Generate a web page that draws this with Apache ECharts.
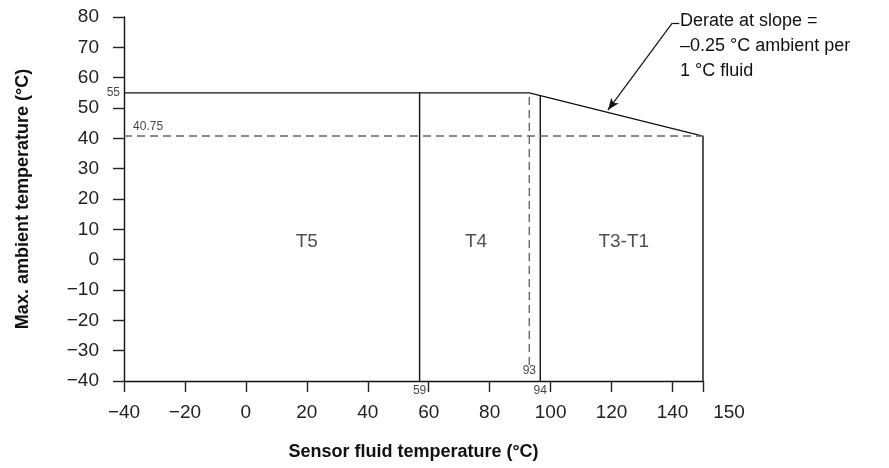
<!DOCTYPE html>
<html>
<head>
<meta charset="utf-8">
<script src="https://cdn.jsdelivr.net/npm/echarts@6/dist/echarts.min.js"></script>
<style>html,body{margin:0;padding:0;background:#fff}#c{width:889px;height:468px}</style>
</head>
<body>
<div id="c"></div>
<script>
// ---- data ----
var xTickLabels = [-40, -20, 0, 20, 40, 60, 80, 100, 120, 140, 150];
var yTickLabels = [-40, -30, -20, -10, 0, 10, 20, 30, 40, 50, 60, 70, 80];
var envelope = [[-40, 55], [93, 55], [150, 40.75], [150, -40]];
var lineT5T4 = [[57, -40], [57, 55]];
var lineT4T3 = [[96.6, -40], [96.6, 54.1]];
var dashedVertical = [[93, -34.7], [93, 55]];
var dashedHorizontal = [[-40, 40.75], [150, 40.75]];
var zoneLabels = [['T5', 20, 5.8], ['T4', 75.5, 5.8], ['T3-T1', 124, 5.8]];
var valueLabels = [
  { text: '55', x: -40, y: 55, pos: 'left' },
  { text: '40.75', x: -38, y: 40.75, pos: 'topRight' },
  { text: '59', x: 57, y: -40, pos: 'bottom' },
  { text: '94', x: 96.6, y: -40, pos: 'bottom' },
  { text: '93', x: 93, y: -40, pos: 'top' }
];
var leaderHook = [[142.2, 78], [139.9, 78]];
var leaderArrow = [[139.9, 78], [118.8, 49.3]];
var annotationLines = ['Derate at slope =', '\u20130.25 \u00B0C ambient per', '1 \u00B0C fluid'];

var chart = echarts.init(document.getElementById('c'), null, { renderer: 'canvas' });
var FONT = 'Liberation Sans';
var lineStyleSolid = { color: '#111', width: 1.4 };
var lineStyleDash = { color: '#666', width: 1.4, type: [8, 5] };

function lineSeries(data, style) {
  return { type: 'line', data: data, symbol: 'none', lineStyle: style, silent: true, animation: false, z: 3 };
}

var option = {
  animation: false,
  grid: { left: 124, right: 186, top: 17, bottom: 87, containLabel: false },
  xAxis: {
    type: 'value', min: -40, max: 150, interval: 20,
    name: 'Sensor fluid temperature (\u00B0C)', nameLocation: 'middle', nameGap: 62,
    nameTextStyle: { fontFamily: FONT, fontWeight: 'bold', fontSize: 18, color: '#111' },
    axisLine: { show: true, onZero: false, lineStyle: { color: '#111', width: 1.4 } },
    axisTick: { show: true, length: 11, lineStyle: { color: '#222', width: 1.4 } },
    splitLine: { show: false },
    axisLabel: {
      margin: 22, fontFamily: FONT, fontSize: 19, color: '#222',
      showMinLabel: true, showMaxLabel: true,
      formatter: function (v) {
        var s = String(v).replace('-', '\u2212');
        if (v === 150) return '{r|' + s + '}';
        return s;
      },
      rich: { r: { fontFamily: FONT, fontSize: 19, color: '#222', padding: [0, 0, 0, 52] } }
    }
  },
  yAxis: {
    type: 'value', min: -40, max: 80, interval: 10,
    name: 'Max. ambient temperature (\u00B0C)', nameLocation: 'middle', nameGap: 92, nameRotate: 90,
    nameTextStyle: { fontFamily: FONT, fontWeight: 'bold', fontSize: 18, color: '#111' },
    axisLine: { show: true, onZero: false, lineStyle: { color: '#111', width: 1.4 } },
    axisTick: { show: true, length: 11, lineStyle: { color: '#222', width: 1.4 } },
    splitLine: { show: false },
    axisLabel: {
      margin: 25, fontFamily: FONT, fontSize: 19, color: '#222',
      formatter: function (v) { return String(v).replace('-', '\u2212'); }
    }
  },
  series: [
    lineSeries(envelope, lineStyleSolid),
    lineSeries(lineT5T4, lineStyleSolid),
    lineSeries(lineT4T3, lineStyleSolid),
    lineSeries(dashedVertical, lineStyleDash),
    lineSeries(dashedHorizontal, lineStyleDash),
    {
      type: 'scatter', symbolSize: 0, silent: true, z: 5,
      data: zoneLabels.map(function (d) { return { value: [d[1], d[2]], name: d[0] }; }),
      label: { show: true, position: 'inside', formatter: '{b}', fontFamily: FONT, fontSize: 19, color: '#222' }
    },
    {
      type: 'scatter', symbolSize: 0, silent: true, z: 5,
      data: valueLabels.map(function (d) {
        var lab = { show: true, position: d.pos, formatter: d.text, distance: 4 };
        if (d.pos === 'topRight') { lab.position = 'insideBottomLeft'; lab.distance = 3; }
        return { value: [d.x, d.y], label: lab };
      }),
      label: { fontFamily: FONT, fontSize: 12, color: '#111' }
    },
    {
      type: 'line', data: [], silent: true, z: 4,
      markLine: {
        silent: true, animation: false,
        label: { show: false },
        lineStyle: { color: '#111', width: 1.2, type: 'solid' },
        data: [
          [{ coord: leaderHook[0], symbol: 'none' }, { coord: leaderHook[1], symbol: 'none' }],
          [{ coord: leaderArrow[0], symbol: 'none' }, { coord: leaderArrow[1], symbol: 'arrow', symbolSize: [7, 12] }]
        ]
      }
    }
  ],
  graphic: [{
    type: 'text', left: 680, top: 9,
    style: { text: annotationLines.join('\n'), fontFamily: FONT, fontSize: 18, lineHeight: 25, fill: '#111' }
  }]
};
chart.setOption(option);
</script>
</body>
</html>
